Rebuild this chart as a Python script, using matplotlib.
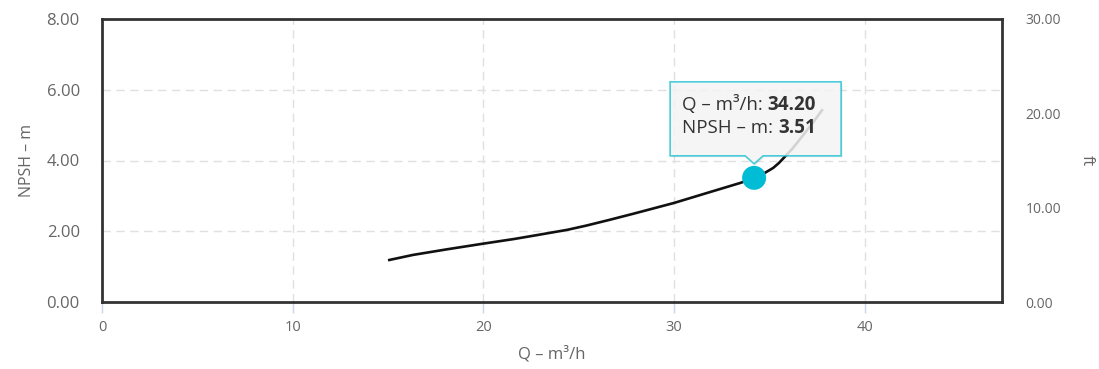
import matplotlib
matplotlib.use("Agg")
import matplotlib.pyplot as plt
from matplotlib.patches import Polygon, Circle
from matplotlib.transforms import IdentityTransform

# ---- data ----
q_values = [15.0, 16.3, 18.1, 20.0, 21.6, 22.8, 24.4, 25.4, 26.6, 27.9, 30.0, 31.9,
            33.5, 34.2, 34.7, 35.2, 35.5, 35.8, 36.2, 36.6, 37.3, 37.8]
npsh_values = [1.18, 1.33, 1.49, 1.65, 1.78, 1.89, 2.04, 2.16, 2.32, 2.50, 2.80, 3.11,
               3.37, 3.51, 3.63, 3.79, 3.93, 4.10, 4.33, 4.60, 5.08, 5.45]
x_ticks = [0, 10, 20, 30, 40]
y_ticks = [0, 2, 4, 6, 8]
ft_ticks = [0, 10, 20, 30]
hover_q = 34.20
hover_npsh = 3.51

plt.rcParams['font.family'] = ['Open Sans', 'DejaVu Sans']

fig = plt.figure(figsize=(10.99, 3.69), dpi=100)
W, H = 1099, 369
ax = fig.add_axes([102 / W, 1 - 302 / H, (1002 - 102) / W, (302 - 19) / H])
ax.set_xlim(0, 47.2)
ax.set_ylim(0, 8)

grid_c = '#e0e0e0'
for xv in x_ticks[1:]:
    ax.axvline(xv, color=grid_c, lw=1, ls=(0, (6, 4)), zorder=0)
for yv in y_ticks[1:-1]:
    ax.axhline(yv, color=grid_c, lw=1, ls=(0, (6, 4)), zorder=0)

ax.plot(q_values, npsh_values, color='#111111', lw=1.9, solid_capstyle='butt',
        solid_joinstyle='round', zorder=3)

for s in ax.spines.values():
    s.set_color('#333333')
    s.set_linewidth(2)

label_c = '#666666'
ax.set_xticks(x_ticks)
ax.set_xticklabels([str(v) for v in x_ticks])
ax.set_yticks(y_ticks)
ax.set_yticklabels(['%.2f' % v for v in y_ticks])
ax.tick_params(axis='x', colors='#ccd6eb', length=8, width=1, labelcolor=label_c,
               labelsize=10.5, pad=5)
ax.tick_params(axis='y', length=0, labelcolor=label_c, labelsize=12, pad=16)
ax.set_xlabel('Q – m³/h', color=label_c, fontsize=12, labelpad=8)
ax.set_ylabel('NPSH – m', color=label_c, fontsize=11.5, labelpad=8)

ax2 = ax.twinx()
ax2.set_ylim(0, 30)
ax2.set_yticks(ft_ticks)
ax2.set_yticklabels(['%.2f' % v for v in ft_ticks])
ax2.tick_params(axis='y', length=0, labelcolor=label_c, labelsize=10, pad=17)
for s in ax2.spines.values():
    s.set_visible(False)
ax2.set_ylabel('ft', color=label_c, fontsize=11.5, rotation=-90, labelpad=24)

# ---- hover marker and tooltip ----
fig.canvas.draw()
mx, my = ax.transData.transform((hover_q, hover_npsh))
ident = IdentityTransform()

left, right = mx - 84, mx + 87
bottom, top = my + 22, my + 96
tip = my + 14
verts = [(left, bottom), (mx - 9, bottom), (mx, tip), (mx + 9, bottom), (right, bottom),
         (right, top), (left, top)]
shadow = Polygon([(vx + 1.5, vy - 1.5) for vx, vy in verts], closed=True, transform=ident,
                 facecolor='#000000', alpha=0.08, edgecolor='none', zorder=5)
fig.add_artist(shadow)
box = Polygon(verts, closed=True, transform=ident, facecolor='#f7f7f7', alpha=0.85,
              edgecolor='#2cc5d5', lw=1.2, zorder=6)
fig.add_artist(box)

marker = Circle((mx, my), 12, transform=ident, facecolor='#00bcd4', edgecolor='none',
                zorder=7)
fig.add_artist(marker)

lines = [('Q – m³/h: ', '%.2f' % hover_q), ('NPSH – m: ', '%.2f' % hover_npsh)]
tx = left + 12
ty0 = top - 23
renderer = fig.canvas.get_renderer()
for i, (lab, val) in enumerate(lines):
    ty = ty0 - i * 23
    t1 = fig.text(tx / W, ty / H, lab, fontsize=13.5, color='#333333', va='center',
                  ha='left', zorder=8)
    bb = t1.get_window_extent(renderer=renderer)
    fig.text(bb.x1 / W, ty / H, val, fontsize=13.5, color='#333333', fontweight='bold',
             va='center', ha='left', zorder=8)

fig.savefig('out.png', dpi=100)
